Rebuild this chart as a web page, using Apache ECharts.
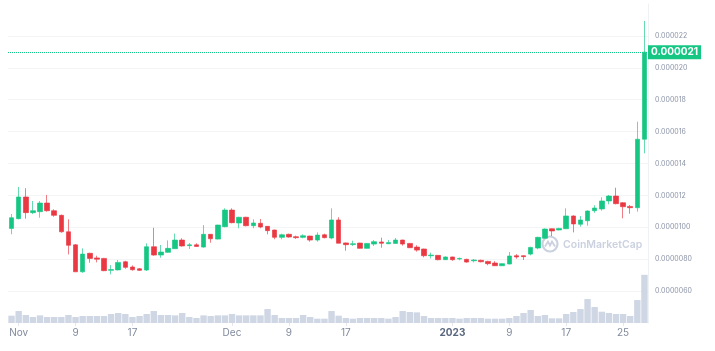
<!DOCTYPE html>
<html>
<head>
<meta charset="utf-8">
<script src="https://cdn.jsdelivr.net/npm/echarts@6/dist/echarts.min.js"></script>
<style>
  html, body { margin: 0; padding: 0; background: #fff; }
  #chart { width: 715px; height: 351px; }
</style>
</head>
<body>
<div id="chart"></div>
<script>
// daily candles, 31 Oct 2022 - 28 Jan 2023 (prices in units of 1e-6)
const categories = [
  '2022-10-31',
  '2022-11-01','2022-11-02','2022-11-03','2022-11-04','2022-11-05','2022-11-06','2022-11-07','2022-11-08','2022-11-09','2022-11-10',
  '2022-11-11','2022-11-12','2022-11-13','2022-11-14','2022-11-15','2022-11-16','2022-11-17','2022-11-18','2022-11-19','2022-11-20',
  '2022-11-21','2022-11-22','2022-11-23','2022-11-24','2022-11-25','2022-11-26','2022-11-27','2022-11-28','2022-11-29','2022-11-30',
  '2022-12-01','2022-12-02','2022-12-03','2022-12-04','2022-12-05','2022-12-06','2022-12-07','2022-12-08','2022-12-09','2022-12-10',
  '2022-12-11','2022-12-12','2022-12-13','2022-12-14','2022-12-15','2022-12-16','2022-12-17','2022-12-18','2022-12-19','2022-12-20',
  '2022-12-21','2022-12-22','2022-12-23','2022-12-24','2022-12-25','2022-12-26','2022-12-27','2022-12-28','2022-12-29','2022-12-30',
  '2022-12-31',
  '2023-01-01','2023-01-02','2023-01-03','2023-01-04','2023-01-05','2023-01-06','2023-01-07','2023-01-08','2023-01-09','2023-01-10',
  '2023-01-11','2023-01-12','2023-01-13','2023-01-14','2023-01-15','2023-01-16','2023-01-17','2023-01-18','2023-01-19','2023-01-20',
  '2023-01-21','2023-01-22','2023-01-23','2023-01-24','2023-01-25','2023-01-26','2023-01-27','2023-01-28'
];

const openPrices = [
  9.93, 10.54, 11.90, 10.92, 10.98, 11.52, 11.04, 10.75, 9.72, 8.90,
  7.21, 8.37, 8.08, 8.05, 7.30, 7.33, 7.84, 7.51, 7.40, 7.32,
  8.78, 8.26, 8.43, 8.66, 9.20, 8.85, 8.90, 8.76, 9.56, 9.26,
  10.04, 11.08, 10.27, 10.63, 10.10, 10.25, 10.06, 9.83, 9.37, 9.56,
  9.41, 9.37, 9.45, 9.20, 9.53, 9.33, 10.46, 9.02, 8.92, 9.01,
  8.68, 8.95, 9.08, 8.97, 8.99, 9.20, 8.99, 8.76, 8.64, 8.22,
  8.24, 7.97, 8.14, 8.01, 7.99, 7.90, 7.93, 7.86, 7.76, 7.59,
  7.70, 8.22, 8.22, 8.32, 8.70, 9.31, 9.91, 9.83, 9.91, 10.71,
  10.19, 10.41, 11.04, 11.15, 11.65, 11.96, 11.54, 11.31, 11.23, 15.52
];
const closePrices = [
  10.60, 11.90, 10.92, 11.04, 11.52, 11.04, 10.75, 9.72, 8.87, 7.21,
  8.32, 8.05, 8.00, 7.28, 7.35, 7.80, 7.49, 7.34, 7.30, 8.78,
  8.26, 8.45, 8.68, 9.20, 8.83, 8.90, 8.80, 9.56, 9.28, 10.14,
  11.08, 10.29, 10.63, 10.10, 10.27, 10.02, 9.79, 9.37, 9.53, 9.39,
  9.35, 9.47, 9.20, 9.51, 9.35, 10.46, 9.00, 8.91, 8.97, 8.68,
  8.99, 9.10, 9.00, 9.04, 9.20, 8.95, 8.72, 8.57, 8.22, 8.26,
  7.97, 8.14, 7.97, 8.05, 7.82, 7.95, 7.84, 7.72, 7.59, 7.72,
  8.20, 8.14, 8.16, 8.74, 9.37, 9.89, 9.77, 9.93, 10.71, 10.21,
  10.46, 11.02, 11.21, 11.65, 11.96, 11.48, 11.29, 11.23, 15.52, 20.98
];
const lowPrices = [
  9.56, 10.50, 10.54, 10.83, 10.60, 10.98, 10.66, 9.66, 8.30, 7.21,
  7.15, 7.78, 7.80, 7.25, 7.05, 7.30, 7.40, 7.28, 7.26, 7.26,
  8.22, 8.09, 8.40, 8.64, 8.79, 8.64, 8.78, 8.72, 9.03, 9.24,
  10.00, 10.25, 9.94, 10.06, 9.94, 9.94, 9.56, 9.25, 9.25, 9.35,
  9.27, 9.31, 9.10, 9.10, 9.31, 9.25, 9.00, 8.53, 8.83, 8.66,
  8.66, 8.83, 8.72, 8.95, 8.97, 8.85, 8.70, 8.47, 8.12, 8.05,
  7.93, 7.95, 7.90, 7.93, 7.78, 7.80, 7.80, 7.62, 7.57, 7.57,
  7.68, 8.03, 7.95, 8.24, 8.62, 9.29, 9.45, 9.81, 9.89, 9.68,
  10.04, 10.10, 10.91, 11.04, 11.44, 11.44, 10.56, 10.85, 10.98, 14.64
];
const highPrices = [
  10.83, 12.53, 12.45, 11.65, 11.65, 12.03, 11.13, 10.80, 10.50, 8.95,
  8.68, 8.40, 8.22, 8.08, 7.63, 7.95, 7.90, 7.61, 7.45, 8.99,
  9.97, 8.89, 9.18, 9.60, 9.31, 9.01, 9.00, 10.14, 9.58, 10.16,
  11.19, 11.19, 10.66, 10.66, 10.50, 10.52, 10.08, 9.85, 9.60, 9.60,
  9.48, 9.56, 9.47, 9.68, 9.60, 11.19, 10.63, 9.04, 9.16, 9.03,
  9.01, 9.20, 9.35, 9.20, 9.33, 9.22, 9.01, 8.88, 8.66, 8.41,
  8.26, 8.18, 8.16, 8.10, 8.03, 8.01, 7.97, 7.90, 7.88, 7.74,
  8.45, 8.32, 8.24, 8.78, 9.41, 9.93, 9.93, 9.97, 11.19, 10.75,
  10.71, 11.06, 11.38, 11.88, 12.03, 12.48, 11.58, 11.40, 16.62, 22.94
];
// relative volume
const volumes = [
  22, 36, 24, 18, 23, 18, 18, 18, 24, 18,
  21, 21, 21, 21, 27, 30, 27, 18, 21, 27,
  36, 24, 24, 23, 30, 18, 15, 23, 21, 23,
  23, 27, 23, 23, 23, 23, 42, 24, 15, 15,
  15, 24, 18, 13, 13, 36, 22, 15, 13, 15,
  15, 15, 15, 13, 18, 36, 33, 32, 21, 15,
  15, 15, 15, 13, 15, 15, 15, 13, 13, 13,
  15, 21, 30, 39, 21, 24, 14, 14, 27, 33,
  42, 72, 48, 34, 30, 27, 27, 21, 69, 145
];

const tickLabels = {
  '2022-11-01': 'Nov', '2022-11-09': '9', '2022-11-17': '17',
  '2022-12-01': 'Dec', '2022-12-09': '9', '2022-12-17': '17',
  '2023-01-01': '2023', '2023-01-09': '9', '2023-01-17': '17', '2023-01-25': '25'
};

const GREEN = '#16c784';
const RED = '#ea3943';

const candles = categories.map((d, i) => [openPrices[i], closePrices[i], lowPrices[i], highPrices[i]]);
const lastClose = closePrices[closePrices.length - 1];

// CMC style: 6 decimals above 0.00001, 7 below
const fmtPrice = v => {
  const n = v / 1e6;
  return v >= 11 ? n.toFixed(6) : n.toFixed(7);
};

const chart = echarts.init(document.getElementById('chart'));

chart.setOption({
  animation: false,
  textStyle: { fontFamily: 'Inter, "Noto Sans", sans-serif' },
  grid: { left: 8, right: 67, top: 4, bottom: 28 },
  xAxis: {
    type: 'category',
    data: categories,
    boundaryGap: true,
    axisLine: { show: false },
    axisTick: {
      show: true,
      alignWithLabel: true,
      length: 3,
      interval: (i, v) => v in tickLabels,
      lineStyle: { color: '#e3e6ec' }
    },
    axisLabel: {
      interval: (i, v) => v in tickLabels,
      hideOverlap: false,
      margin: 5,
      fontSize: 10,
      color: '#808a9d',
      formatter: v => v === '2023-01-01' ? '{b|2023}' : tickLabels[v],
      rich: { b: { fontSize: 10, fontWeight: 'bold', color: '#58667e' } }
    },
    splitLine: { show: false }
  },
  yAxis: [
    {
      type: 'value',
      position: 'right',
      min: 4,
      max: 24,
      interval: 2,
      axisLine: { show: true, lineStyle: { color: '#eff2f5' } },
      axisTick: { show: false },
      axisLabel: {
        showMinLabel: false,
        showMaxLabel: false,
        margin: 7,
        fontSize: 7,
        color: '#8a93a6',
        formatter: fmtPrice
      },
      splitLine: {
        showMinLine: false,
        showMaxLine: false,
        lineStyle: { color: '#f3f4f6' }
      }
    },
    {
      type: 'value',
      min: 0,
      max: 960,
      show: false,
      splitLine: { show: false }
    }
  ],
  graphic: [
    {
      type: 'group',
      left: 540,
      top: 234,
      z: 100,
      children: [
        {
          type: 'circle',
          shape: { cx: 9, cy: 8.5, r: 7.5 },
          style: { fill: 'none', stroke: '#cbd1df', lineWidth: 2.2 }
        },
        {
          type: 'polyline',
          shape: { points: [[4, 11], [7, 6], [9, 10], [11, 6], [14, 11]] },
          style: { fill: 'none', stroke: '#cbd1df', lineWidth: 1.8 }
        },
        {
          type: 'text',
          x: 22,
          y: 9,
          style: {
            text: 'CoinMarketCap',
            fill: '#cbd1df',
            font: '600 10.5px Inter, sans-serif',
            verticalAlign: 'middle'
          }
        }
      ]
    }
  ],
  series: [
    {
      name: 'Volume',
      type: 'bar',
      xAxisIndex: 0,
      yAxisIndex: 1,
      data: volumes,
      barCategoryGap: '10%',
      itemStyle: { color: '#cfd6e4' },
      silent: true,
      z: 1
    },
    {
      name: 'Price',
      type: 'candlestick',
      data: candles,
      barWidth: 5,
      z: 3,
      itemStyle: {
        color: GREEN,
        color0: RED,
        borderColor: 'rgba(22,199,132,0.65)',
        borderColor0: 'rgba(234,57,67,0.65)',
        borderWidth: 1
      },
      markLine: {
        symbol: 'none',
        silent: true,
        data: [{ yAxis: lastClose }],
        lineStyle: { color: GREEN, type: 'dotted', width: 1 },
        label: {
          position: 'end',
          distance: 0,
          formatter: () => (lastClose / 1e6).toFixed(6),
          color: '#fff',
          fontWeight: 'bold',
          fontSize: 10,
          backgroundColor: GREEN,
          padding: [2, 3, 2, 3]
        }
      }
    }
  ]
});
</script>
</body>
</html>
